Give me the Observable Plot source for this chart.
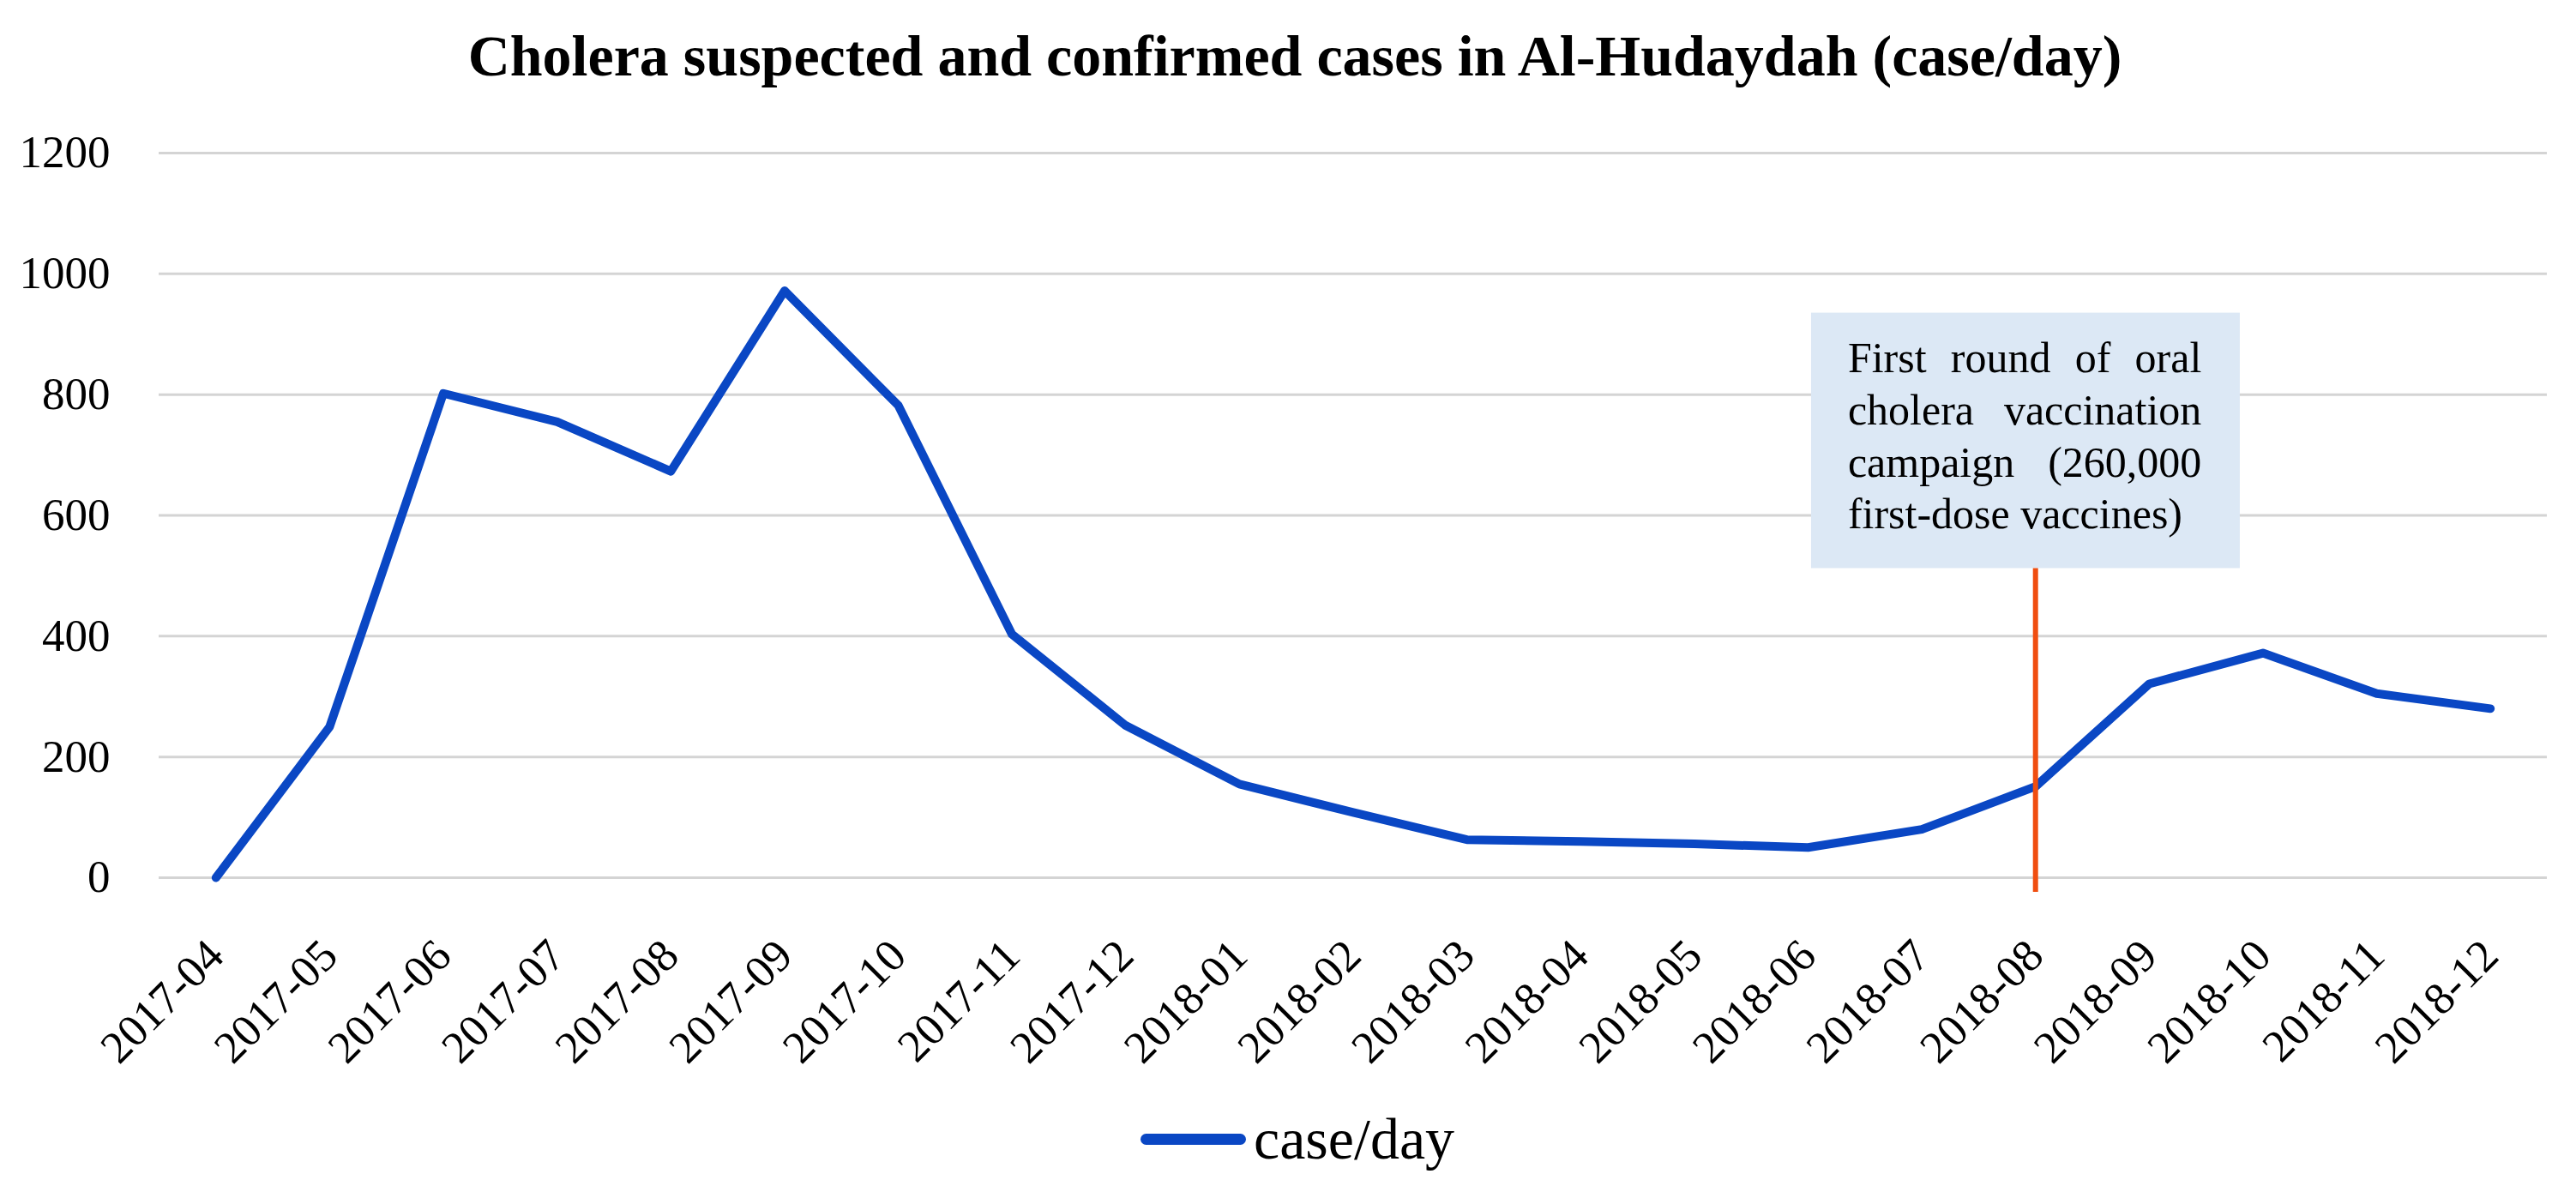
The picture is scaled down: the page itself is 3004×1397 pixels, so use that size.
<!DOCTYPE html>
<html>
<head>
<meta charset="utf-8">
<script src="https://cdn.jsdelivr.net/npm/d3@7"></script>
<script src="https://cdn.jsdelivr.net/npm/@observablehq/plot@0.6"></script>
<style>
  body { margin: 0; background: #fff; }
  #wrap { position: relative; width: 3004px; height: 1397px; overflow: hidden; font-family: "Liberation Serif", serif; color: #000; }
  #title { position: absolute; left: 0; top: 0; width: 3020px; height: 130px; line-height: 130px; text-align: center; font-weight: bold; font-size: 68px; white-space: nowrap; }
  #chart { position: absolute; left: 0; top: 130px; }
  #legend { position: absolute; left: 1330px; top: 1289px; display: flex; align-items: center; font-size: 68px; white-space: nowrap; }
  #legend .sw { width: 123px; height: 13px; border-radius: 7px; background: #0a47c4; margin-right: 9px; }
</style>
</head>
<body>
<div id="wrap">
  <div id="title">Cholera suspected and confirmed cases in Al-Hudaydah (case/day)</div>
  <div id="chart"></div>
  <div id="legend"><span class="sw"></span><span>case/day</span></div>
</div>
<script>
// ---- data ----
const months = ["2017-04","2017-05","2017-06","2017-07","2017-08","2017-09","2017-10","2017-11","2017-12",
                "2018-01","2018-02","2018-03","2018-04","2018-05","2018-06","2018-07","2018-08","2018-09",
                "2018-10","2018-11","2018-12"];
const cases = [0, 250, 802, 755, 673, 972, 782, 403, 252, 155, 108, 63, 60, 56, 50, 80, 151, 321, 372, 305, 280];
const yTicks = [0, 200, 400, 600, 800, 1000, 1200];
const annotMonth = "2018-08";
const annotLines = ["First round of oral", "cholera vaccination", "campaign (260,000", "first-dose vaccines)"];
// annotation box and text placement in data units (x = month index, y = cases)
const annotBox = {x1: 14.03, x2: 17.80, y1: 512, y2: 935};
const annotText = {x1: 14.35, x2: 17.46, y: 888, step: 86.5};
const ruleSpan = {y1: -24, y2: 512};

const data = months.map((m, i) => ({i, month: m, value: cases[i]}));
const annotIndex = months.indexOf(annotMonth);
const annotData = annotLines.map((t, k) => ({t, k, y: annotText.y - k * annotText.step}));

const plot = Plot.plot({
  width: 3004,
  height: 1170,
  marginTop: 48,
  marginBottom: 277,
  marginLeft: 185,
  marginRight: 34,
  style: {fontFamily: "Liberation Serif, serif", fontSize: "50px", color: "#000", background: "#fff"},
  x: {domain: [-0.5, months.length - 0.5], axis: null},
  y: {domain: [0, 1200], axis: null},
  marks: [
    Plot.gridY(yTicks, {stroke: "#d4d4d4", strokeOpacity: 1, strokeWidth: 3}),
    Plot.axisY(yTicks, {tickSize: 0, tickPadding: 57, fontSize: 53, tickFormat: d => String(d), label: null}),
    Plot.axisX(d3.range(months.length), {tickFormat: i => months[i], tickRotate: -45, tickSize: 0, tickPadding: 82, fontSize: 53, label: null}),
    Plot.line(data, {x: "i", y: "value", stroke: "#0a47c4", strokeWidth: 10, strokeLinejoin: "round", strokeLinecap: "round"}),
    Plot.rect([annotBox], {x1: "x1", x2: "x2", y1: "y1", y2: "y2", fill: "#dce8f5"}),
    Plot.ruleX([annotIndex], {y1: ruleSpan.y1, y2: ruleSpan.y2, stroke: "#f04e10", strokeWidth: 6}),
    Plot.text(annotData, {x: annotText.x1, y: "y", text: "t", textAnchor: "start", lineAnchor: "top", fontSize: 50, fill: "#000", ariaLabel: "annotation"})
  ]
});
document.getElementById("chart").append(plot);

// justify annotation lines (except last) to the text box width
const xs = plot.scale("x");
const target = xs.apply(annotText.x2) - xs.apply(annotText.x1);
const texts = Array.from(plot.querySelectorAll("text")).filter(t => annotLines.includes(t.textContent));
texts.forEach(t => {
  if (t.textContent === annotLines[annotLines.length - 1]) return;
  const len = t.getBBox().width;
  const spaces = (t.textContent.match(/ /g) || []).length;
  if (!spaces) return;
  const ws = (target - len) / spaces;
  t.setAttribute("word-spacing", ws);
  t.style.wordSpacing = ws + "px";
  const after = t.getBBox().width;
  if (after < target - 4) {
    t.style.wordSpacing = "";
    t.removeAttribute("word-spacing");
    t.setAttribute("textLength", target);
    t.setAttribute("lengthAdjust", "spacing");
  }
});
</script>
</body>
</html>
